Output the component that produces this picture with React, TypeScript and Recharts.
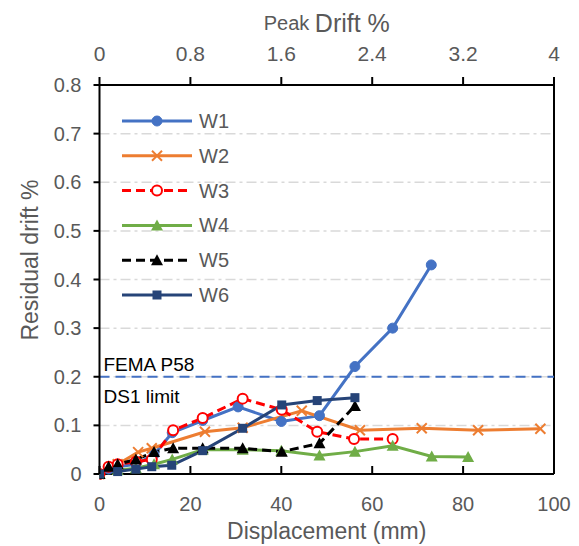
import React from 'react';
import { LineChart, Line, XAxis, YAxis, CartesianGrid, ReferenceLine, Legend } from 'recharts';

// ---- data ----
const xTicks = [0, 20, 40, 60, 80, 100];
const topTicks = [0, 0.8, 1.6, 2.4, 3.2, 4];
const yTicks = [0, 0.1, 0.2, 0.3, 0.4, 0.5, 0.6, 0.7, 0.8];
const seriesNames = ['W1', 'W2', 'W3', 'W4', 'W5', 'W6'];

const w1 = [
  { x: 0, y: 0 }, { x: 2, y: 0.01 }, { x: 4, y: 0.015 }, { x: 8, y: 0.02 }, { x: 12, y: 0.04 },
  { x: 16, y: 0.085 }, { x: 22.7, y: 0.11 }, { x: 30.5, y: 0.138 }, { x: 40, y: 0.108 },
  { x: 48.4, y: 0.12 }, { x: 56.2, y: 0.221 }, { x: 64.5, y: 0.3 }, { x: 73, y: 0.43 },
];
const w2 = [
  { x: 0, y: 0 }, { x: 4, y: 0.02 }, { x: 8.5, y: 0.045 }, { x: 11.5, y: 0.053 }, { x: 23.2, y: 0.087 },
  { x: 31.5, y: 0.095 }, { x: 44.5, y: 0.13 }, { x: 57.3, y: 0.09 }, { x: 70.9, y: 0.094 },
  { x: 83.3, y: 0.09 }, { x: 97, y: 0.093 },
];
const w3 = [
  { x: 0, y: 0 }, { x: 2, y: 0.015 }, { x: 4, y: 0.02 }, { x: 8, y: 0.025 }, { x: 11.5, y: 0.03 },
  { x: 16.2, y: 0.09 }, { x: 22.7, y: 0.115 }, { x: 31.5, y: 0.155 }, { x: 40.1, y: 0.132 },
  { x: 47.9, y: 0.087 }, { x: 56, y: 0.072 }, { x: 64.5, y: 0.072 },
];
const w4 = [
  { x: 0, y: 0 }, { x: 4, y: 0.008 }, { x: 8, y: 0.012 }, { x: 12, y: 0.02 }, { x: 16, y: 0.03 },
  { x: 22.7, y: 0.05 }, { x: 31.5, y: 0.05 }, { x: 40, y: 0.048 }, { x: 48.4, y: 0.038 },
  { x: 56.2, y: 0.046 }, { x: 64.5, y: 0.058 }, { x: 73.1, y: 0.036 }, { x: 81.1, y: 0.035 },
];
const w5 = [
  { x: 0, y: 0 }, { x: 2, y: 0.015 }, { x: 4, y: 0.02 }, { x: 8, y: 0.03 }, { x: 12, y: 0.045 },
  { x: 16.2, y: 0.053 }, { x: 22.7, y: 0.053 }, { x: 31.5, y: 0.053 }, { x: 40.1, y: 0.046 },
  { x: 48.4, y: 0.063 }, { x: 56.2, y: 0.14 },
];
const w6 = [
  { x: 0, y: 0 }, { x: 4, y: 0.005 }, { x: 8, y: 0.01 }, { x: 11.5, y: 0.015 }, { x: 15.9, y: 0.018 },
  { x: 22.7, y: 0.048 }, { x: 31.5, y: 0.094 }, { x: 40.1, y: 0.142 }, { x: 47.9, y: 0.151 },
  { x: 56.2, y: 0.157 },
];
const seriesData = [w1, w2, w3, w4, w5, w6];
const femaLimit = 0.2;
// empty helper series so the top (Peak Drift %) axis is bound to something
const topAxisData = topTicks.map((t) => ({ p: t, v: null }));

// ---- styles ----
const FONT = '"Liberation Sans", Arial, sans-serif';
const GRAY = '#595959';
const styles = [
  { color: '#4472C4', dash: undefined, marker: 'circle' },
  { color: '#ED7D31', dash: undefined, marker: 'x' },
  { color: '#FF0000', dash: '9 5', marker: 'ocircle' },
  { color: '#70AD47', dash: undefined, marker: 'triangle' },
  { color: '#000000', dash: '9 5', marker: 'triangle' },
  { color: '#264478', dash: undefined, marker: 'square' },
];

function Marker({ cx, cy, kind, color }: any) {
  if (cx == null || cy == null) return null;
  switch (kind) {
    case 'circle':
      return <circle cx={cx} cy={cy} r={5} fill={color} stroke={color} />;
    case 'ocircle':
      return <circle cx={cx} cy={cy} r={5} fill="#fff" stroke={color} strokeWidth={2} />;
    case 'x':
      return (
        <g stroke={color} strokeWidth={2}>
          <line x1={cx - 5} y1={cy - 5} x2={cx + 5} y2={cy + 5} />
          <line x1={cx - 5} y1={cy + 5} x2={cx + 5} y2={cy - 5} />
        </g>
      );
    case 'triangle':
      return <polygon points={`${cx},${cy - 6} ${cx + 6},${cy + 5} ${cx - 6},${cy + 5}`} fill={color} />;
    case 'square':
      return <rect x={cx - 4.5} y={cy - 4.5} width={9} height={9} fill={color} />;
    default:
      return null;
  }
}

const makeDot = (i: number) => (props: any) => (
  <Marker key={`d${i}-${props.index}`} cx={props.cx} cy={props.cy} kind={styles[i].marker} color={styles[i].color} />
);

const BottomTick = (props: any) => {
  const { x, y, payload } = props;
  const axisY = y - 26;
  return (
    <g>
      <line x1={x} y1={axisY} x2={x} y2={axisY - 8} stroke="#000" strokeWidth={2} />
      <text x={x} y={y - 3} textAnchor="middle" dominantBaseline="hanging" fill={GRAY} fontSize={20} fontFamily={FONT}>
        {payload.value}
      </text>
    </g>
  );
};

const renderLegend = () => (
  <svg width={140} height={210} style={{ overflow: 'visible' }}>
    {seriesNames.map((name, i) => {
      const yy = 12 + i * 34.8;
      const s = styles[i];
      return (
        <g key={name}>
          <line x1={8} y1={yy} x2={78} y2={yy} stroke={s.color} strokeWidth={3} strokeDasharray={s.dash} />
          <Marker cx={43} cy={yy} kind={s.marker} color={s.color} />
          <text x={85} y={yy} dominantBaseline="central" fill={GRAY} fontSize={20} fontFamily={FONT}>{name}</text>
        </g>
      );
    })}
  </svg>
);

export default function App() {
  return (
    <div style={{ position: 'absolute', left: 0, top: 0 }}>
      <LineChart width={579} height={546} margin={{ top: 25, right: 25, bottom: 0, left: 0 }}>
        <CartesianGrid xAxisId="bottom" yAxisId="left" horizontal vertical={false} stroke="#D9D9D9" strokeDasharray="10 4 3 4" strokeWidth={1.5} />
        <XAxis
          xAxisId="bottom"
          dataKey="x"
          type="number"
          domain={[0, 100]}
          ticks={xTicks}
          orientation="bottom"
          height={72}
          axisLine={{ stroke: '#000', strokeWidth: 2 }}
          tickLine={false}
          tickSize={0}
          tickMargin={26}
          tick={<BottomTick />}
          interval={0}
          allowDataOverflow
          label={(p: any) => {
            const vb = p.viewBox;
            return (
              <text x={vb.x + vb.width / 2} y={vb.y + 57} textAnchor="middle" dominantBaseline="central" fill={GRAY} fontSize={23} fontFamily={FONT}>
                Displacement (mm)
              </text>
            );
          }}
        />
        <XAxis
          xAxisId="top"
          dataKey="p"
          type="number"
          domain={[0, 4]}
          ticks={topTicks}
          orientation="top"
          height={60}
          axisLine={{ stroke: '#000', strokeWidth: 2 }}
          tickLine={{ stroke: '#000', strokeWidth: 2 }}
          tickSize={8}
          tickMargin={16}
          interval={0}
          tick={{ fill: GRAY, fontSize: 21, fontFamily: FONT }}
          allowDataOverflow
          label={(p: any) => {
            const vb = p.viewBox;
            return (
              <text x={vb.x + vb.width / 2} y={vb.y - 2} textAnchor="middle" dominantBaseline="central" fill={GRAY} fontFamily={FONT}>
                <tspan fontSize={20}>Peak </tspan>
                <tspan fontSize={25}>Drift %</tspan>
              </text>
            );
          }}
        />
        <YAxis
          yAxisId="left"
          type="number"
          domain={[0, 0.8]}
          ticks={yTicks}
          width={99.5}
          axisLine={{ stroke: '#000', strokeWidth: 2 }}
          tickLine={{ stroke: '#000', strokeWidth: 2 }}
          tickSize={6}
          tickMargin={12}
          interval={0}
          tick={{ fill: GRAY, fontSize: 20, fontFamily: FONT }}
          label={() => (
            <text x={30} y={260} transform="rotate(-90 30 260)" textAnchor="middle" dominantBaseline="central" fill={GRAY} fontSize={23} fontFamily={FONT}>
              Residual drift  %
            </text>
          )}
        />
        <ReferenceLine xAxisId="bottom" yAxisId="left" x={100} stroke="#000" strokeWidth={2} />
        <ReferenceLine
          xAxisId="bottom"
          yAxisId="left"
          y={femaLimit}
          stroke="#4472C4"
          strokeWidth={2}
          strokeDasharray="10 6"
          label={(p: any) => {
            const vb = p.viewBox;
            return (
              <g>
                <text x={vb.x + 4} y={vb.y - 12} dominantBaseline="central" fill="#000" fontSize={19} fontFamily={FONT}>FEMA P58</text>
                <text x={vb.x + 4} y={vb.y + 20} dominantBaseline="central" fill="#000" fontSize={19} fontFamily={FONT}>DS1 limit</text>
              </g>
            );
          }}
        />
        <Line
          xAxisId="top"
          yAxisId="left"
          data={topAxisData}
          dataKey="v"
          stroke="none"
          dot={false}
          activeDot={false}
          legendType="none"
          isAnimationActive={false}
        />
        {seriesData.map((d, i) => (
          <Line
            key={seriesNames[i]}
            xAxisId="bottom"
            yAxisId="left"
            data={d}
            dataKey="y"
            name={seriesNames[i]}
            stroke={styles[i].color}
            strokeWidth={3}
            strokeDasharray={styles[i].dash}
            dot={makeDot(i)}
            activeDot={false}
            isAnimationActive={false}
          />
        ))}
        <Legend
          content={renderLegend}
          wrapperStyle={{ position: 'absolute', left: 114, top: 109, width: 0, height: 0, overflow: 'visible' }}
        />
      </LineChart>
    </div>
  );
}
